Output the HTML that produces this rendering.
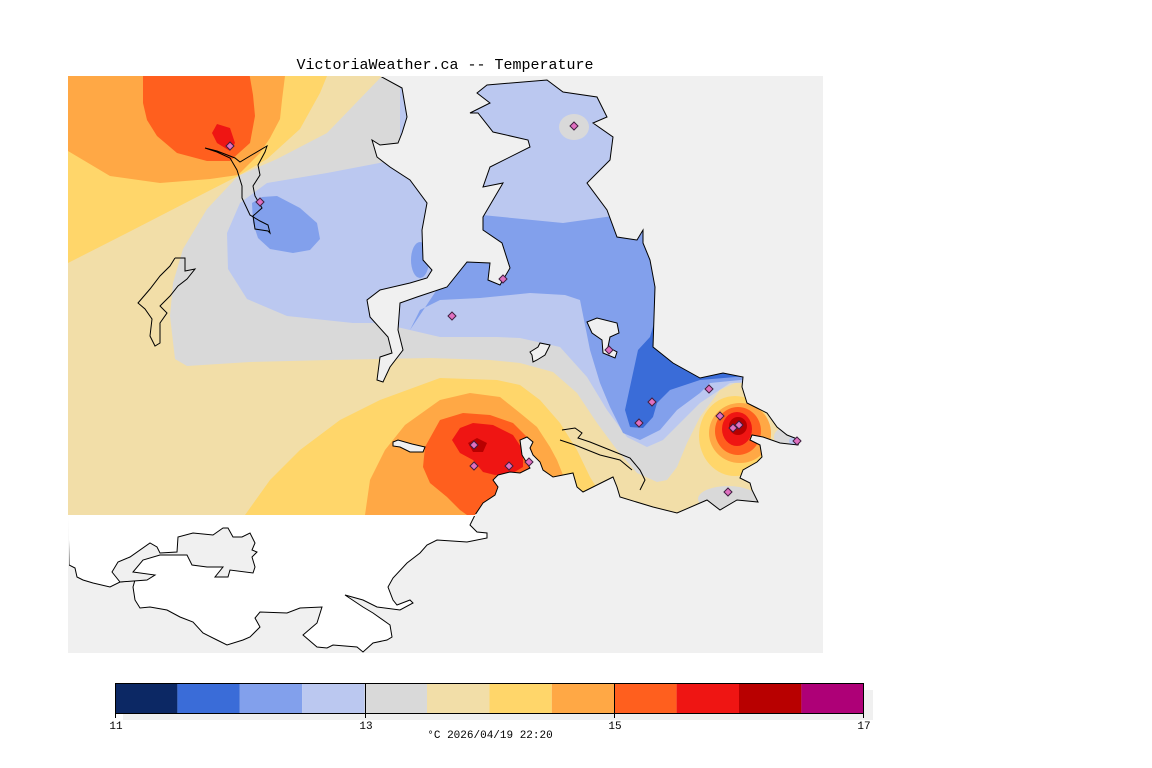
<!DOCTYPE html>
<html><head><meta charset="utf-8"><style>
html,body{margin:0;padding:0;background:#fff;}
svg{display:block;}
text{font-family:"Liberation Mono",monospace;fill:#000;}
</style></head><body>
<svg width="1152" height="768" viewBox="0 0 1152 768" xmlns="http://www.w3.org/2000/svg">
<defs>
<clipPath id="dc"><path id="dp" d="M68,76 L380,76 L402,88 L407,117 L402,133 L398,143 L380,145 L372,140 L377,157 L390,167 L410,180 L427,203 L422,230 L423,260 L432,270 L427,278 L410,283 L380,290 L367,300 L370,317 L388,337 L392,353 L380,357 L377,380 L383,382 L390,367 L403,350 L398,330 L400,303 L417,297 L447,287 L467,262 L490,263 L488,280 L500,285 L510,268 L502,243 L483,230 L483,217 L503,183 L483,187 L490,167 L530,147 L528,140 L493,132 L478,113 L470,113 L490,103 L477,93 L487,85 L547,80 L563,92 L597,97 L607,117 L593,123 L613,137 L610,160 L587,183 L607,210 L617,237 L637,240 L643,230 L643,243 L650,260 L655,287 L653,347 L673,363 L700,378 L723,373 L743,377 L742,387 L747,403 L757,408 L767,413 L777,427 L787,435 L800,440 L798,445 L780,443 L763,437 L752,435 L750,440 L760,445 L762,457 L757,462 L743,470 L740,478 L750,483 L752,490 L758,502 L737,500 L720,510 L707,500 L677,513 L653,507 L620,497 L617,487 L613,477 L583,492 L577,487 L573,473 L553,477 L543,470 L540,462 L533,455 L530,448 L533,442 L527,437 L520,440 L522,455 L530,468 L520,473 L510,472 L498,475 L493,480 L498,487 L495,495 L483,503 L475,515 L68,515 Z"/></clipPath>
<clipPath id="inner"><rect x="69" y="77" width="754" height="437"/></clipPath>
<clipPath id="lower"><rect x="69" y="516" width="754" height="137"/></clipPath>
</defs>
<rect x="68" y="76" width="755" height="577" fill="#f0f0f0"/>
<g clip-path="url(#dc)">
<rect x="60" y="60" width="780" height="470" fill="#f2dea8"/>
<polygon fill="#d9d9d9" points="380,60 382,76 327,133 277,159 238,176 207,209 183,249 173,283 170,316 175,359 187,366 250,362 330,360 430,358 490,360 520,363 553,372 577,393 597,423 617,450 637,473 657,482 667,480 677,467 687,443 700,417 720,390 737,382 760,380 860,380 860,60"/>
<ellipse cx="784" cy="437" rx="10" ry="9" fill="#d9d9d9"/>
<ellipse cx="797" cy="441" rx="8" ry="5" fill="#bbc8f0"/>
<ellipse cx="728" cy="499" rx="30" ry="13" fill="#d9d9d9"/>
<polygon fill="#bbc8f0" points="400,140 400,60 860,60 860,380 730,383 700,403 680,423 663,440 647,447 627,437 607,410 587,377 560,347 520,338 497,337 440,337 397,327 373,323 353,323 287,316 247,299 228,269 227,233 240,203 267,183 327,173 400,159"/>
<ellipse cx="574" cy="127" rx="15" ry="13" fill="#d9d9d9"/>
<polygon fill="#82a0ec" points="410,330 420,310 440,300 480,298 530,293 565,295 580,300 590,350 600,383 610,407 623,433 640,440 660,430 677,410 700,393 710,383 760,378 860,378 860,210 620,215 563,223 482,215 470,230 450,270"/>
<ellipse cx="420" cy="260" rx="9" ry="18" fill="#82a0ec"/>
<polygon fill="#82a0ec" points="252,203 262,197 277,196 300,208 317,223 320,239 310,250 293,253 270,249 258,238 253,223"/>
<polygon fill="#3a6cd8" points="655,320 650,337 638,350 633,373 625,410 630,427 643,428 653,417 657,403 670,390 700,380 760,375 760,300"/>
<polygon fill="#ffd66a" points="60,60 327,60 327,76 320,93 300,129 267,159 238,176 193,199 127,233 68,263 60,263"/>
<polygon fill="#ffa845" points="60,60 285,60 285,76 282,100 280,119 270,138 260,153 238,175 210,179 160,183 110,176 68,151 60,151"/>
<polygon fill="#ff5f1e" points="143,60 143,103 147,120 157,136 177,153 207,161 230,161 250,143 255,116 253,95 247,60"/>
<polygon fill="#ef1513" points="217,124 230,128 235,143 230,151 217,143 212,133"/>
<polygon fill="#ffd66a" points="245,530 245,515 270,480 300,450 340,420 380,400 440,378 497,380 520,385 540,400 560,423 577,450 590,477 600,493 605,530"/>
<polygon fill="#ffa845" points="365,530 365,515 370,480 385,450 405,425 440,400 470,393 500,397 520,413 537,427 550,447 557,460 565,480 570,530"/>
<polygon fill="#ff5f1e" points="467,515 460,510 447,497 430,483 423,467 425,447 440,420 463,413 490,415 513,423 527,437 535,460 530,480 500,500 490,520"/>
<polygon fill="#ef1513" points="452,440 460,428 473,423 493,425 513,435 523,450 523,467 513,473 495,475 483,472 473,460 460,453"/>
<polygon fill="#b80000" points="468,443 477,438 487,443 483,452 473,452"/>
<ellipse cx="735" cy="436" rx="36" ry="40" fill="#ffd66a"/>
<ellipse cx="740" cy="433" rx="31" ry="30" fill="#ffa845"/>
<ellipse cx="738" cy="431" rx="23" ry="24" fill="#ff5f1e"/>
<ellipse cx="737" cy="429" rx="15" ry="17" fill="#ef1513"/>
<ellipse cx="738" cy="426" rx="9" ry="9" fill="#b80000"/>
</g>
<path id="wp" fill="#fff" d="M68,515 L475,515 L470,525 L477,532 L487,533 L487,538 L467,542 L437,540 L427,545 L420,553 L407,563 L393,578 L388,587 L393,600 L397,605 L410,600 L413,603 L400,610 L377,607 L363,600 L345,595 L363,607 L373,613 L390,625 L392,637 L387,640 L373,643 L363,652 L357,647 L333,645 L327,648 L317,647 L303,635 L317,623 L322,607 L300,608 L287,613 L260,612 L255,618 L260,627 L250,637 L243,640 L227,645 L217,640 L203,633 L193,622 L180,617 L167,610 L150,607 L140,608 L135,600 L133,587 L135,580 L120,582 L110,587 L93,583 L83,580 L77,577 L75,568 L69,565 L68,515"/>
<g clip-path="url(#lower)"><use href="#wp" fill="none" stroke="#000" stroke-width="1"/></g>
<polygon fill="#f0f0f0" stroke="#000" stroke-width="1" points="112,572 118,562 130,557 150,543 157,547 160,553 177,552 178,537 193,533 213,535 223,528 228,528 233,537 242,537 250,533 255,543 252,550 257,552 252,557 255,567 253,573 230,570 228,577 215,577 223,567 207,567 192,565 187,555 160,555 143,560 133,572 155,575 147,580 120,582"/>
<g clip-path="url(#inner)"><use href="#dp" fill="none" stroke="#000" stroke-width="1"/></g>
<g fill="#f0f0f0" stroke="#000" stroke-width="1">
<polygon points="587,322 597,318 617,323 619,333 610,337 608,347 617,352 615,358 603,353 602,340 592,333"/>
<polygon points="530,352 538,347 540,343 550,345 545,355 537,360 533,362 532,355"/>
<polygon points="393,442 398,440 412,444 425,447 423,452 410,452 400,447 393,446"/>
</g>
<g fill="none" stroke="#000" stroke-width="1">
<polyline points="205,148 217,151 235,158 240,162 250,156 267,146 265,152 258,165 260,175 253,186 255,196 262,208 253,216 255,229 268,231 270,233 268,225 260,221 250,215 242,198 242,186 237,170 230,158 217,152 205,148"/>
<polyline points="175,258 185,258 185,271 195,269 187,279 178,286 170,296 160,306 167,313 160,323 160,343 155,346 150,336 152,319 145,309 138,303 150,289 160,276 170,266 175,258"/>
<polyline points="562,430 575,428 582,433 578,438 590,442 610,450 630,458 640,470 645,480 640,490"/>
<polyline points="560,440 575,445 600,455 620,460 632,470"/>
</g>
<g fill="#e070c0" stroke="#402040" stroke-width="1">
<polygon points="230,142 234,146 230,150 226,146"/>
<polygon points="260,198 264,202 260,206 256,202"/>
<polygon points="574,122 578,126 574,130 570,126"/>
<polygon points="503,275 507,279 503,283 499,279"/>
<polygon points="452,312 456,316 452,320 448,316"/>
<polygon points="609,346 613,350 609,354 605,350"/>
<polygon points="652,398 656,402 652,406 648,402"/>
<polygon points="709,385 713,389 709,393 705,389"/>
<polygon points="639,419 643,423 639,427 635,423"/>
<polygon points="720,412 724,416 720,420 716,416"/>
<polygon points="733,424 737,428 733,432 729,428"/>
<polygon points="739,421 743,425 739,429 735,425"/>
<polygon points="474,441 478,445 474,449 470,445"/>
<polygon points="474,462 478,466 474,470 470,466"/>
<polygon points="509,462 513,466 509,470 505,466"/>
<polygon points="728,488 732,492 728,496 724,492"/>
<polygon points="797,437 801,441 797,445 793,441"/>
<polygon points="529,458 533,462 529,466 525,462"/>
</g>
<text x="445" y="69" font-size="15" text-anchor="middle">VictoriaWeather.ca -- Temperature</text>
<rect x="123" y="690" width="750" height="30" fill="#f0f0f0"/>
<g>
<rect x="115" y="683" width="62.4" height="30" fill="#0c2864"/>
<rect x="177.4" y="683" width="62.4" height="30" fill="#3a6cd8"/>
<rect x="239.8" y="683" width="62.4" height="30" fill="#82a0ec"/>
<rect x="302.2" y="683" width="62.4" height="30" fill="#bbc8f0"/>
<rect x="364.6" y="683" width="62.4" height="30" fill="#d9d9d9"/>
<rect x="427" y="683" width="62.4" height="30" fill="#f2dea8"/>
<rect x="489.4" y="683" width="62.4" height="30" fill="#ffd66a"/>
<rect x="551.8" y="683" width="62.4" height="30" fill="#ffa845"/>
<rect x="614.2" y="683" width="62.4" height="30" fill="#ff5f1e"/>
<rect x="676.6" y="683" width="62.4" height="30" fill="#ef1513"/>
<rect x="739" y="683" width="62.4" height="30" fill="#b80000"/>
<rect x="801.4" y="683" width="62.6" height="30" fill="#ae0077"/>
</g>
<rect x="115.5" y="683.5" width="748" height="30" fill="none" stroke="#000" stroke-width="1"/>
<g stroke="#000" stroke-width="1">
<line x1="365.5" y1="683" x2="365.5" y2="718"/>
<line x1="614.5" y1="683" x2="614.5" y2="718"/>
<line x1="115.5" y1="713" x2="115.5" y2="718"/>
<line x1="863.5" y1="713" x2="863.5" y2="718"/>
</g>
<g font-size="11" text-anchor="middle">
<text x="116" y="729">11</text>
<text x="366" y="729">13</text>
<text x="615" y="729">15</text>
<text x="864" y="729">17</text>
<text x="490" y="738">°C  2026/04/19 22:20</text>
</g>
</svg>
</body></html>
